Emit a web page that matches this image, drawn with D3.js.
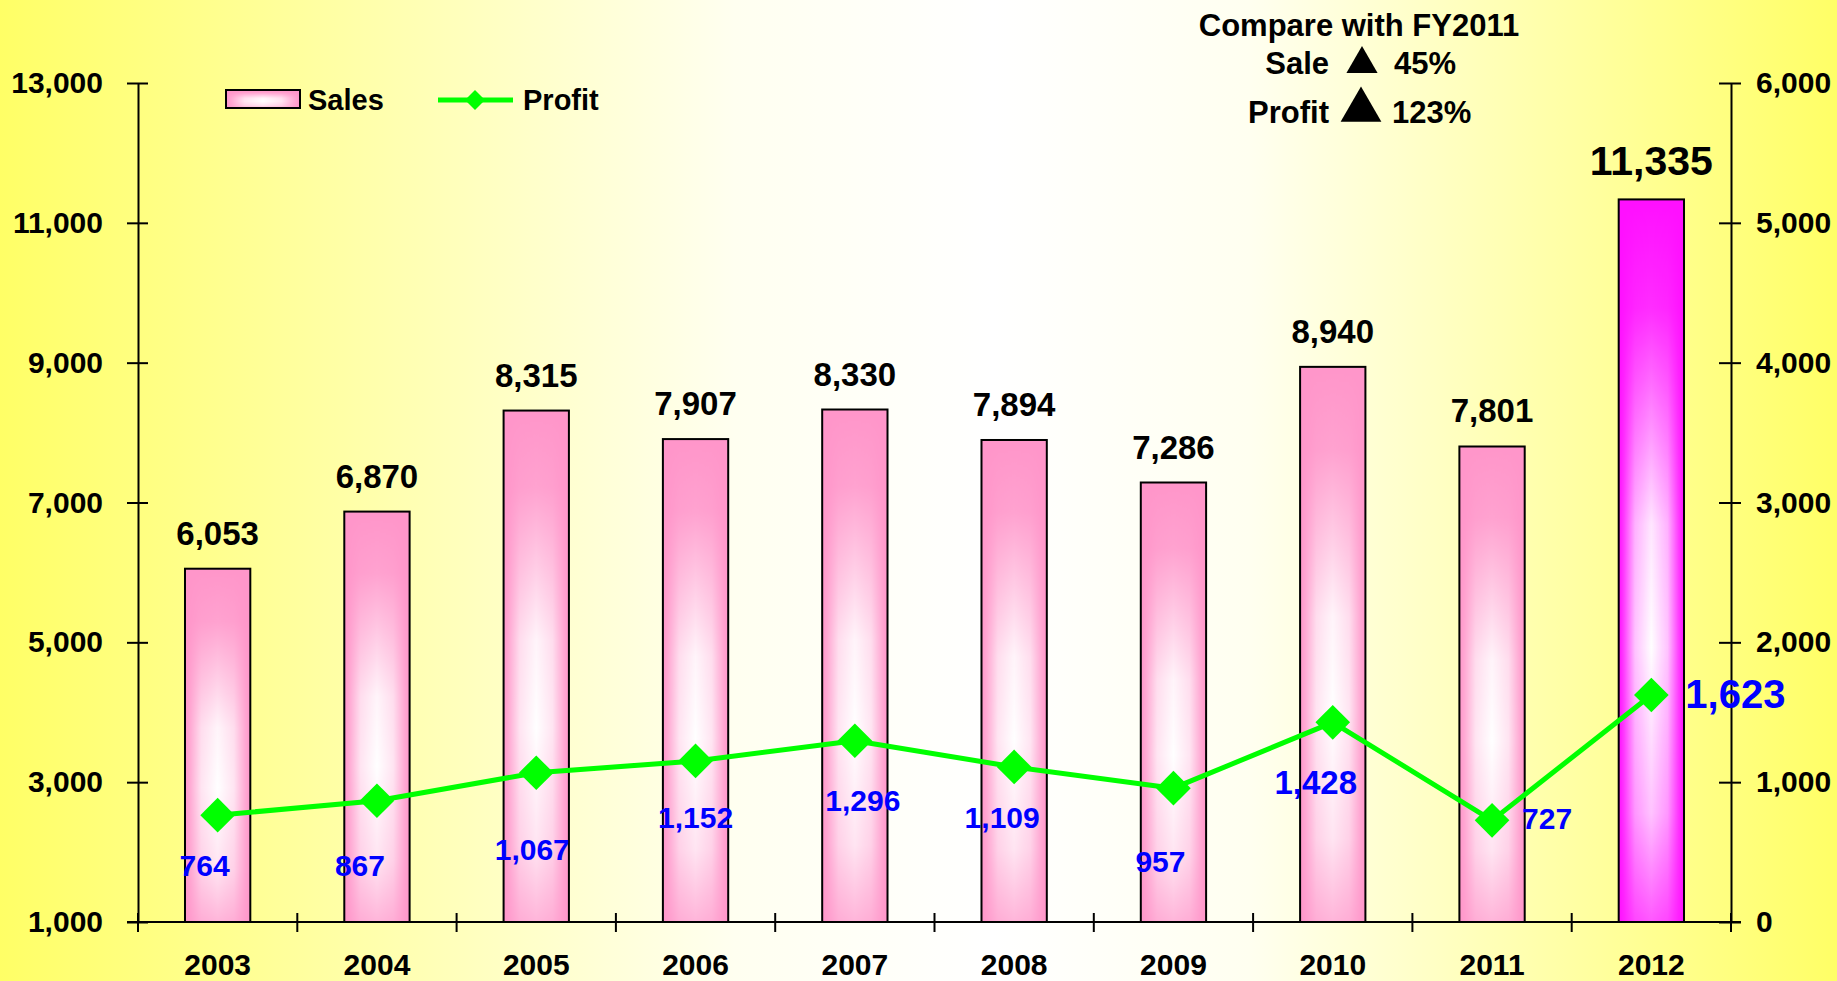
<!DOCTYPE html>
<html><head><meta charset="utf-8">
<script src="https://cdn.jsdelivr.net/npm/d3@7"></script>
<style>
html,body{margin:0;padding:0;overflow:hidden;background:#fff;}
svg{display:block;}
text{font-family:"Liberation Sans",Arial,Helvetica,sans-serif;font-weight:bold;}
</style>
</head><body>
<svg id="c" width="1837" height="981"></svg>
<script>
// ---------- data ----------
const years = ["2003","2004","2005","2006","2007","2008","2009","2010","2011","2012"];
const sales = [6053, 6870, 8315, 7907, 8330, 7894, 7286, 8940, 7801, 11335];
const profit = [764, 867, 1067, 1152, 1296, 1109, 957, 1428, 727, 1623];
const leftTicks = [1000, 3000, 5000, 7000, 9000, 11000, 13000];
const rightTicks = [0, 1000, 2000, 3000, 4000, 5000, 6000];
const seriesNames = ["Sales", "Profit"];
const highlightYear = "2012";
const compareTitle = "Compare with FY2011";
const compareLabels = ["Sale", "Profit"];
const comparePcts = ["45%", "123%"];

// ---------- layout (label placement, not data) ----------
const profitLabelOffsets = [[-13,61],[-17,75],[-4,87],[0,67],[8,70],[-12,61],[-13,84],[-17,72],[55,9],[84,13]];
const profitLabelSizes = [30,30,30,30,30,30,30,33,30,40];

const svg = d3.select("#c");
const W = 1837, H = 981;
const defs = svg.append("defs");

// background gradient
const bg = defs.append("linearGradient").attr("id","bg").attr("x1",0).attr("x2",1).attr("y1",0).attr("y2",0);
[[0,"#ffff66"],[0.4,"#fffff0"],[0.54,"#ffffff"],[0.68,"#fffff0"],[1,"#ffff66"]]
  .forEach(s=>bg.append("stop").attr("offset",s[0]).attr("stop-color",s[1]));
svg.append("rect").attr("width",W).attr("height",H).attr("fill","url(#bg)");

// bar highlight masks
const gH = defs.append("linearGradient").attr("id","gH").attr("x1",0).attr("x2",1).attr("y1",0).attr("y2",0);
[[0,0],[0.08,0.2],[0.25,0.75],[0.5,1],[0.75,0.75],[0.92,0.2],[1,0]].forEach(s=>gH.append("stop").attr("offset",s[0]).attr("stop-color","#fff").attr("stop-opacity",s[1]));
const gV = defs.append("linearGradient").attr("id","gV").attr("x1",0).attr("x2",0).attr("y1",0).attr("y2",1);
[[0,0],[0.15,0.12],[0.45,0.9],[0.62,1],[0.85,0.75],[1,0.3]].forEach(s=>gV.append("stop").attr("offset",s[0]).attr("stop-color","#fff").attr("stop-opacity",s[1]));
defs.append("mask").attr("id","mH").attr("maskContentUnits","objectBoundingBox")
  .append("rect").attr("width",1).attr("height",1).attr("fill","url(#gH)");
defs.append("mask").attr("id","mV").attr("maskContentUnits","objectBoundingBox")
  .append("rect").attr("width",1).attr("height",1).attr("fill","url(#gV)");

// ---------- scales ----------
const plot = {left:138, right:1731, top:83, bottom:922};
const x = d3.scaleBand().domain(years).range([plot.left, plot.right]).paddingInner(0.59).paddingOuter(0.295);
const yL = d3.scaleLinear().domain([1000,13000]).range([plot.bottom, plot.top]);
const yR = d3.scaleLinear().domain([0,6000]).range([plot.bottom, plot.top]);
const cx = d => x(d) + x.bandwidth()/2;

function fancyRect(g, x0, y0, w, h, base, glow){
  g.append("rect").attr("x",x0).attr("y",y0).attr("width",w).attr("height",h).attr("fill",base);
  g.append("g").attr("mask","url(#mV)")
    .append("rect").attr("x",x0).attr("y",y0).attr("width",w).attr("height",h)
    .attr("fill",glow).attr("mask","url(#mH)");
  g.append("rect").attr("x",x0).attr("y",y0).attr("width",w).attr("height",h)
    .attr("fill","none").attr("stroke","#000").attr("stroke-width",2);
}

// ---------- bars ----------
const barsG = svg.append("g");
years.forEach((yr,i)=>{
  const hl = yr === highlightYear;
  fancyRect(barsG.append("g"), x(yr), yL(sales[i]), x.bandwidth(), yL(1000)-yL(sales[i]),
    hl ? "#ff10ff" : "#ff96ca", "#ffffff");
});

// ---------- axes ----------
const fmt = d3.format(",");
const axL = svg.append("g").attr("transform",`translate(${plot.left},0)`)
  .call(d3.axisLeft(yL).tickValues(leftTicks).tickFormat(fmt).tickSizeInner(10).tickSizeOuter(0).tickPadding(25));
axL.selectAll(".tick line").attr("x1",-11).attr("x2",10);
const axR = svg.append("g").attr("transform",`translate(${plot.right},0)`)
  .call(d3.axisRight(yR).tickValues(rightTicks).tickFormat(fmt).tickSizeInner(10).tickSizeOuter(0).tickPadding(15));
axR.selectAll(".tick line").attr("x1",-12).attr("x2",10);
const axB = svg.append("g").attr("transform",`translate(0,${plot.bottom})`)
  .call(d3.axisBottom(x).tickSize(0).tickPadding(0));
axB.select(".domain").attr("d",`M${plot.left-11},0H${plot.right+10}`);
axB.selectAll(".tick text").attr("y",53).attr("dy",0);
// category boundary ticks
const bounds = years.map(d => x(d) - (x.step()-x.bandwidth())/2).concat([plot.right]);
axB.selectAll(".bt").data(bounds).enter().append("line")
  .attr("x1",d=>d).attr("x2",d=>d).attr("y1",-9).attr("y2",10).attr("stroke","#000").attr("stroke-width",2);
[axL,axR,axB].forEach(a=>{
  a.selectAll(".domain").attr("stroke","#000").attr("stroke-width",2);
  a.selectAll(".tick line").attr("stroke","#000").attr("stroke-width",2);
  a.selectAll("text").attr("font-size",30).attr("font-family",null).attr("fill","#000");
});

// ---------- profit line ----------
const line = d3.line().x((d,i)=>cx(years[i])).y(d=>yR(d));
svg.append("path").datum(profit).attr("d",line).attr("fill","none")
  .attr("stroke","#00ff00").attr("stroke-width",5).attr("stroke-linejoin","round");
const diamond = d3.symbol().type(d3.symbolSquare).size(600);
svg.selectAll(".pm").data(profit).enter().append("path")
  .attr("d",diamond).attr("fill","#00ff00")
  .attr("transform",(d,i)=>`translate(${cx(years[i])},${yR(d)}) rotate(45)`);

// ---------- labels ----------
svg.selectAll(".sl").data(sales).enter().append("text")
  .attr("x",(d,i)=>cx(years[i])).attr("y",d=>yL(d)-24)
  .attr("text-anchor","middle").attr("font-size",(d,i)=>years[i]===highlightYear?41:33)
  .attr("fill","#000").text(d=>fmt(d));
svg.selectAll(".pl").data(profit).enter().append("text")
  .attr("x",(d,i)=>cx(years[i])+profitLabelOffsets[i][0])
  .attr("y",(d,i)=>yR(d)+profitLabelOffsets[i][1])
  .attr("text-anchor","middle").attr("font-size",(d,i)=>profitLabelSizes[i])
  .attr("fill","#0000ff").text(d=>fmt(d));

// ---------- legend ----------
const lg = svg.append("g");
fancyRect(lg.append("g"), 226, 90, 74, 18, "#ff96ca", "#ffffff");
lg.append("text").attr("x",308).attr("y",110).attr("font-size",29).text(seriesNames[0]);
lg.append("line").attr("x1",438).attr("x2",513).attr("y1",100).attr("y2",100).attr("stroke","#00ff00").attr("stroke-width",5);
lg.append("path").attr("d",d3.symbol().type(d3.symbolSquare).size(200)).attr("fill","#00ff00")
  .attr("transform","translate(475,100) rotate(45)");
lg.append("text").attr("x",523).attr("y",110).attr("font-size",29).text(seriesNames[1]);

// ---------- comparison annotation ----------
const an = svg.append("g");
an.append("text").attr("x",1359).attr("y",36).attr("text-anchor","middle").attr("font-size",31).text(compareTitle);
an.append("text").attr("x",1329).attr("y",74).attr("text-anchor","end").attr("font-size",31).text(compareLabels[0]);
an.append("path").attr("d",d3.symbol().type(d3.symbolTriangle).size(420)).attr("transform","translate(1362,64)");
an.append("text").attr("x",1394).attr("y",74).attr("font-size",31).text(comparePcts[0]);
an.append("text").attr("x",1329).attr("y",123).attr("text-anchor","end").attr("font-size",31).text(compareLabels[1]);
an.append("path").attr("d",d3.symbol().type(d3.symbolTriangle).size(720)).attr("transform","translate(1361,110)");
an.append("text").attr("x",1392).attr("y",123).attr("font-size",31).text(comparePcts[1]);
</script>
</body></html>
